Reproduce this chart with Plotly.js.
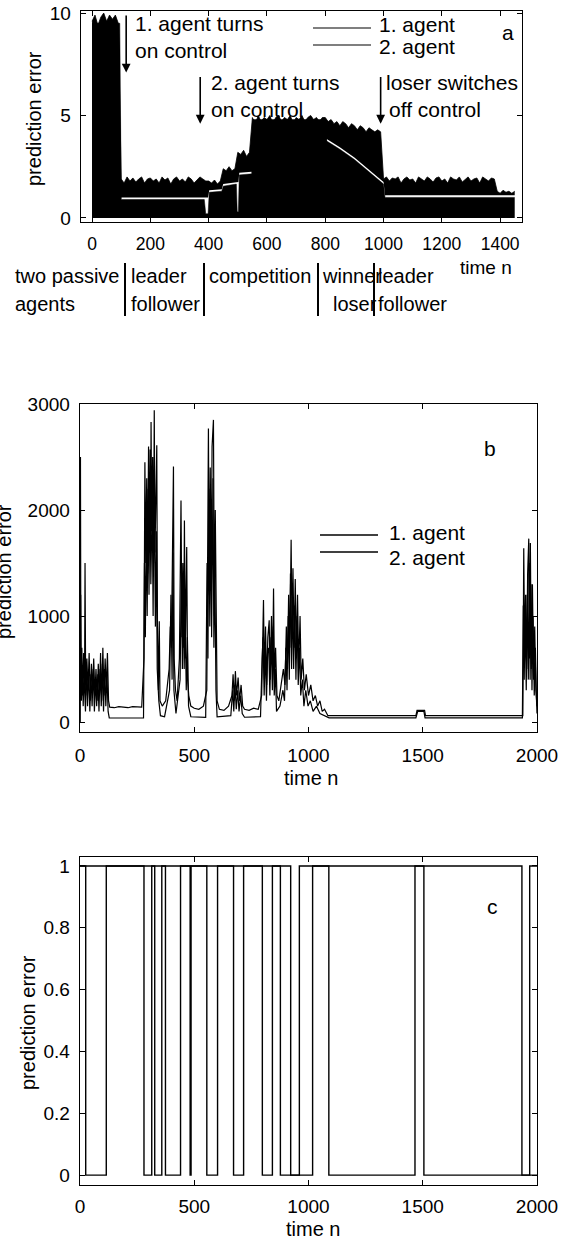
<!DOCTYPE html>
<html>
<head>
<meta charset="utf-8">
<script src="https://cdn.plot.ly/plotly-3.0.1.min.js"></script>
<style>
  html, body { margin: 0; padding: 0; background: #fff; }
  #fig { width: 561px; height: 1241px; }
</style>
</head>
<body>
<div id="fig"></div>
<script>
// ---------- panel a: prediction error of two agents, sampled every 10 steps ----------
const aStep = 10;
const a1Hi = [
  9.6, 9.9, 9.4, 9.8, 10.0, 9.6, 9.9, 9.7, 9.9, 9.5,
  1.9, 1.7, 2.0, 1.8, 1.95, 1.75, 1.9, 2.0, 1.7, 1.9,
  1.95, 1.8, 1.9, 1.7, 2.0, 1.85, 1.95, 1.65, 1.9, 2.0,
  1.8, 1.9, 1.75, 2.0, 1.9, 1.7, 1.85, 2.0, 1.9, 1.8,
  1.8, 1.7, 1.85, 1.65, 1.8,
  2.4, 2.3, 2.5, 2.3, 2.4,
  3.2, 3.1, 3.3, 3.0, 3.2,
  4.9, 4.6, 5.0, 4.7, 4.9, 4.8, 5.0, 4.6, 4.9, 5.0,
  4.7, 4.9, 4.8, 5.0, 4.6, 4.9, 4.8, 5.0, 4.7, 4.9,
  5.0, 4.8, 4.9, 4.7, 4.9,
  4.9, 4.7, 4.8, 4.6, 4.7, 4.5, 4.7, 4.6, 4.4, 4.6,
  4.5, 4.3, 4.5, 4.4, 4.2, 4.4, 4.3, 4.2, 4.3, 4.2,
  1.9, 2.0, 1.8, 1.95, 1.9, 2.0, 1.7, 1.9, 2.0, 1.85,
  1.9, 1.7, 2.0, 1.9, 1.8, 2.0, 1.9, 1.75, 1.95, 2.0,
  1.8, 1.9, 1.7, 2.0, 1.9, 1.85, 2.0, 1.75, 1.9, 2.0,
  1.8, 1.9, 1.95, 1.7, 2.0, 1.9, 1.8, 1.95, 1.9,
  1.3, 1.2, 1.35, 1.25, 1.3, 1.2, 1.3
];
const aT = a1Hi.map((_, i) => i * aStep);

// level where agent 2's band ends and agent 1's band starts
const gT   = [0,   95,  100,  385,  390,  398,  402,  445,  450,  495,  498,  502,  505,  548,  552,  800,  805,  850,  900,  950,  995,  1000, 1005, 1450];
const a2Hi = [9.5, 9.5, 0.9,  0.9,  0.2,  0.2,  1.25, 1.3,  1.55, 1.65, 0.3,  0.3,  2.1,  2.15, 4.8,  4.8,  3.75, 3.35, 2.85, 2.25, 1.75, 1.65, 1.0,  1.0];
const a1Lo = [0,   0,   1.0,  1.0,  1.0,  1.0,  1.35, 1.4,  1.65, 1.75, 1.75, 1.75, 2.2,  2.25, 0,    0,    3.85, 3.45, 2.95, 2.35, 1.85, 1.75, 1.1,  1.1];

const aTicksX = [0, 200, 400, 600, 800, 1000, 1200, 1400];
const aTicksY = [0, 5, 10];

// ---------- panel b ----------
const bT1 = [0,2,4,8,12,16,20,22,25,30,35,40,45,50,55,60,65,70,75,80,85,90,95,100,105,110,115,120,125,130,150,170,190,210,230,250,270,
  280,284,288,292,296,300,304,307,309,311,314,318,322,325,328,332,336,339,343,347,350,360,375,390,395,400,405,409,412,418,425,
  435,442,446,450,454,457,461,464,467,471,476,485,500,520,540,555,558,562,566,570,574,578,584,588,592,596,600,610,630,650,
  665,670,675,680,685,692,698,705,712,720,740,760,780,795,799,803,807,812,817,822,828,832,838,843,847,851,856,862,870,880,890,
  897,903,908,913,918,924,928,932,937,942,947,952,957,963,968,975,982,990,1000,1010,1020,1030,1040,1050,1060,1070,1085,1100,
  1300,1470,1475,1508,1512,1700,1938,1942,1946,1950,1955,1959,1964,1967,1971,1975,1980,1985,1990,1995,2000];
const bV1 = [0,2500,300,700,250,650,350,1500,250,600,300,650,200,550,300,600,250,500,200,550,250,650,200,700,250,600,300,650,200,140,135,145,140,135,145,140,140,
  600,2450,1500,2300,1400,2600,1600,2570,1700,2830,1800,2500,1500,2940,1600,2400,2610,900,300,950,200,150,200,500,900,700,2000,2410,600,300,200,
  600,2090,800,1500,700,1900,600,1200,1650,400,250,150,130,120,150,300,2000,2770,1200,2400,1300,2600,2850,1000,2000,500,200,120,110,150,
  250,450,200,480,250,420,200,350,150,120,110,130,120,250,900,1150,400,900,350,800,960,400,1000,500,1260,400,700,250,200,350,500,
  350,900,500,1200,700,1720,800,1450,700,1350,600,1200,500,1000,400,600,300,450,250,350,200,250,150,200,100,120,60,60,
  60,60,110,110,60,60,60,1640,600,1200,500,1400,1730,600,1690,500,1300,400,900,300,150];

const bT2 = [0,3,6,10,14,18,24,28,33,38,43,48,53,58,63,68,73,78,83,88,93,98,103,108,113,118,123,128,200,278,
  282,286,290,294,298,302,306,310,316,320,324,330,334,338,345,352,370,392,398,403,407,411,420,438,444,448,452,456,460,465,470,475,485,
  550,556,560,564,568,572,576,582,586,590,595,600,660,668,673,678,684,690,696,703,710,720,790,797,801,806,811,816,821,826,831,836,
  842,846,850,855,860,875,888,895,901,906,911,916,921,926,930,935,940,945,950,955,961,966,973,980,988,998,1008,1020,1035,1050,1070,
  1090,1470,1478,1505,1510,1936,1940,1944,1948,1953,1957,1962,1966,1970,1974,1978,1983,1988,1993,1998,2000];
const bV2 = [0,1200,200,500,150,450,100,550,150,500,100,450,150,500,100,400,150,450,100,500,150,550,100,500,150,450,100,40,38,40,
  1500,800,1900,1000,2200,1200,2300,1300,2100,1000,2300,900,1800,500,200,60,50,300,1200,400,1600,300,80,400,1500,500,1300,500,1000,300,800,150,50,
  45,1500,600,2200,900,2000,800,2300,700,1500,300,50,60,300,100,350,120,300,100,250,80,45,50,600,800,250,700,200,650,700,250,800,
  300,900,250,500,100,150,300,200,700,300,1000,400,1400,500,1200,500,1100,400,1000,350,700,250,400,150,300,150,200,100,150,80,60,
  40,40,100,100,40,40,1100,400,1000,300,1200,400,1500,400,1300,300,1000,250,700,200,80];

const bTicksX = [0, 500, 1000, 1500, 2000];
const bTicksY = [0, 1000, 2000, 3000];

// ---------- panel c: 0/1 switching of the two agents ----------
const cT1 = [0, 25, 115, 280, 314, 327, 358, 374, 440, 482, 486, 555, 602, 672, 716, 798, 842, 877, 1018, 1089, 1466, 1505, 2000];
const cV1 = [1, 0,  1,   0,   1,   0,   1,   0,   1,   0,   1,   0,   1,   0,   1,   0,   1,   0,   1,    0,    1,    0,    0];
const cT2 = [0, 922, 960, 1934, 1968, 2000];
const cV2 = [1, 0,   1,   0,    1,    1];

const cTicksX = [0, 500, 1000, 1500, 2000];
const cTicksY = [0, 0.2, 0.4, 0.6, 0.8, 1];

// ---------- page geometry (pixels on the 561 x 1241 page) ----------
const W = 561, H = 1241;
const PX = p => p / W;
const PY = p => 1 - p / H;
const FONT = 'Liberation Sans, Arial, Helvetica, sans-serif';

const black = '#000';
const traces = [
  { x: gT, y: a2Hi, xaxis: 'x', yaxis: 'y', mode: 'lines', fill: 'tozeroy', fillcolor: black,
    line: { color: black, width: 0.5 }, hoverinfo: 'skip' },
  { x: gT, y: a1Lo, xaxis: 'x', yaxis: 'y', mode: 'lines', line: { color: black, width: 0 }, hoverinfo: 'skip' },
  { x: aT, y: a1Hi, xaxis: 'x', yaxis: 'y', mode: 'lines', fill: 'tonexty', fillcolor: black,
    line: { color: black, width: 0.8 }, hoverinfo: 'skip' },

  { x: bT2, y: bV2, xaxis: 'x2', yaxis: 'y2', mode: 'lines', line: { color: black, width: 1.2 } },
  { x: bT1, y: bV1, xaxis: 'x2', yaxis: 'y2', mode: 'lines', line: { color: black, width: 1.2 } },

  { x: cT1, y: cV1, xaxis: 'x3', yaxis: 'y3', mode: 'lines', line: { color: black, width: 1.4, shape: 'hv' } },
  { x: cT2, y: cV2, xaxis: 'x3', yaxis: 'y3', mode: 'lines', line: { color: black, width: 1.4, shape: 'hv' } }
];

function axis(extra) {
  return Object.assign({
    showline: true, linecolor: black, linewidth: 1.3, mirror: 'ticks',
    ticks: 'inside', ticklen: 5, tickwidth: 1, tickcolor: black,
    showgrid: false, zeroline: false, automargin: false,
    tickfont: { family: FONT, size: 19, color: black }
  }, extra);
}

const ann = [];
function text(t, x, y, size, opts) {
  ann.push(Object.assign({ text: t, xref: 'paper', yref: 'paper', x: PX(x), y: PY(y),
    xanchor: 'left', yanchor: 'middle', showarrow: false,
    font: { family: FONT, size: size, color: black } }, opts || {}));
}
function arrow(xn, yTail, yHead) {
  ann.push({ xref: 'x', yref: 'y', axref: 'x', ayref: 'y', x: xn, y: yHead, ax: xn, ay: yTail,
    text: '', showarrow: true, arrowhead: 2, arrowsize: 1.1, arrowwidth: 1.6, arrowcolor: black });
}

// panel a texts
text('1. agent turns', 133, 24, 21);
text('on control', 133, 51, 21);
text('2. agent turns', 209, 82, 21);
text('on control', 209, 109, 21);
text('loser switches', 384, 82, 21);
text('off control', 387, 109, 21);
arrow(117, 9.95, 7.1);
arrow(371, 6.95, 4.6);
arrow(990, 6.95, 4.6);
text('1. agent', 377, 25, 21);
text('2. agent', 377, 46, 21);
text('a', 500, 33, 21);
text('prediction error', 34, 119, 20, { xanchor: 'center', textangle: -90 });

// phases below panel a
text('two passive', 13, 276, 20);
text('agents', 13, 304, 20);
text('leader', 129, 276, 20);
text('follower', 129, 304, 20);
text('competition', 207, 276, 20);
text('winner', 320, 276, 20);
text('loser', 331, 304, 20);
text('leader', 376, 276, 20);
text('follower', 376, 304, 20);
text('time n', 458, 268, 19);

// panel b texts
text('1. agent', 387, 533, 21);
text('2. agent', 387, 557, 21);
text('b', 482, 448, 21);
text('prediction error', 4, 572, 20, { xanchor: 'center', textangle: -90 });
text('time n', 311, 778, 20, { xanchor: 'center' });

// panel c texts
text('c', 485, 906, 21);
text('prediction error', 28, 1023, 20, { xanchor: 'center', textangle: -90 });
text('time n', 313, 1229, 20, { xanchor: 'center' });

const shapes = [];
function seg(x0, y0, x1, y1, w) {
  shapes.push({ type: 'line', xref: 'paper', yref: 'paper', x0: PX(x0), y0: PY(y0), x1: PX(x1), y1: PY(y1),
    line: { color: black, width: w || 1.3 } });
}
// legend samples
seg(313, 28, 371, 28, 1.2);
seg(313, 45, 371, 45, 1.2);
seg(320, 535, 378, 535, 1.4);
seg(320, 552, 378, 552, 1.4);
// phase separators
[125, 204, 318, 374].forEach(x => seg(x, 263, x, 316, 2));

const layout = {
  width: W, height: H, autosize: false,
  margin: { l: 0, r: 0, t: 0, b: 0, pad: 0 },
  paper_bgcolor: '#fff', plot_bgcolor: '#fff',
  showlegend: false,
  font: { family: FONT, color: black },
  xaxis: axis({ domain: [PX(81), PX(522)], range: [-38, 1475], tickvals: aTicksX, anchor: 'y', tickfont: { family: FONT, size: 17.5, color: black }, ticklabelstandoff: 6 }),
  yaxis: axis({ domain: [PY(222), PY(11)], range: [-0.2, 10.1], tickvals: aTicksY, anchor: 'x', ticklabelstandoff: 5 }),
  xaxis2: axis({ domain: [PX(80), PX(537)], range: [0, 2000], tickvals: bTicksX, anchor: 'y2', ticklabelstandoff: 6 }),
  yaxis2: axis({ domain: [PY(732), PY(404)], range: [-94, 3000], tickvals: bTicksY, anchor: 'x2', ticklabelstandoff: 5 }),
  xaxis3: axis({ domain: [PX(80), PX(537)], range: [0, 2000], tickvals: cTicksX, anchor: 'y3', ticklabelstandoff: 4 }),
  yaxis3: axis({ domain: [PY(1185), PY(857)], range: [-0.032, 1.029], tickvals: cTicksY, anchor: 'x3', ticklabelstandoff: 5 }),
  annotations: ann,
  shapes: shapes
};

Plotly.newPlot('fig', traces, layout, { staticPlot: true, displayModeBar: false });
</script>
</body>
</html>
